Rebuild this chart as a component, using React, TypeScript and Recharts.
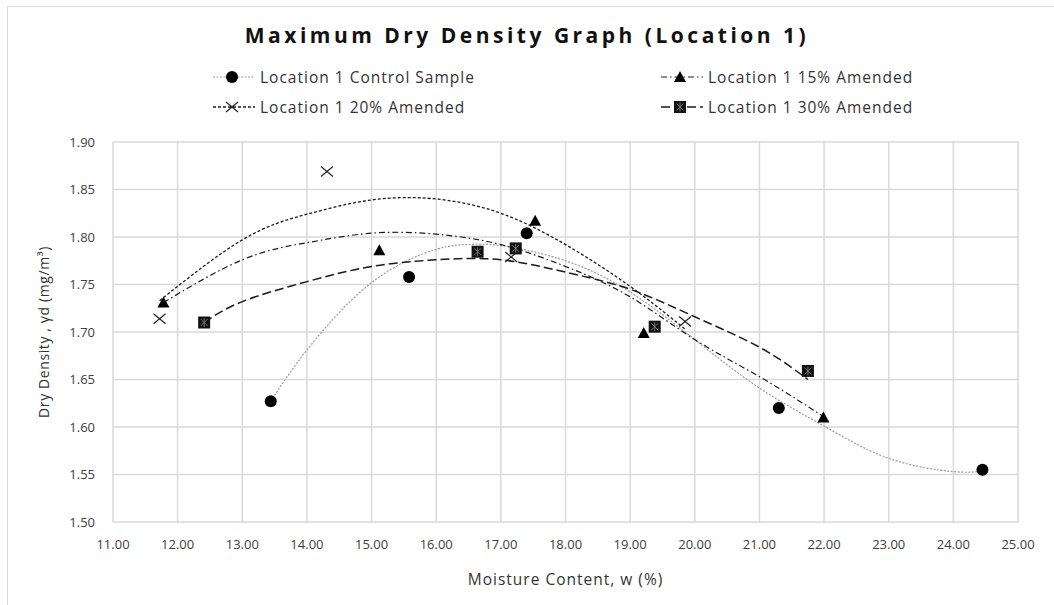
import React from "react";
import { ComposedChart, Line, Scatter, XAxis, YAxis, CartesianGrid } from "recharts";

// measured points
const ctlX = [13.44, 15.58, 17.4, 21.3, 24.45];
const ctlY = [1.627, 1.758, 1.804, 1.62, 1.555];
const a15X = [11.78, 15.12, 17.53, 19.21, 21.99];
const a15Y = [1.731, 1.786, 1.817, 1.699, 1.61];
const a20X = [11.72, 14.31, 17.16, 19.85];
const a20Y = [1.714, 1.869, 1.779, 1.711];
const a30X = [12.41, 16.64, 17.23, 19.38, 21.75];
const a30Y = [1.71, 1.7845, 1.788, 1.7056, 1.659];

// trendlines
const ctlTrendX = [13.44, 14, 15, 16, 16.5, 17, 18, 19, 20, 21, 22, 23, 24, 24.45];
const ctlTrendY = [1.627, 1.681, 1.752, 1.787, 1.792, 1.791, 1.775, 1.742, 1.692, 1.641, 1.601, 1.567, 1.553, 1.554];
const a15TrendX = [11.78, 13, 14, 15, 16, 17, 18, 19, 20, 21, 21.99];
const a15TrendY = [1.731, 1.776, 1.794, 1.804, 1.803, 1.792, 1.769, 1.737, 1.692, 1.653, 1.611];
const a20TrendX = [11.72, 13, 14, 15, 16, 17, 18, 19, 19.85];
const a20TrendY = [1.733, 1.797, 1.824, 1.839, 1.84, 1.825, 1.792, 1.748, 1.703];
const a30TrendX = [12.41, 13, 14, 15, 16, 17, 18, 19, 20, 21, 21.75];
const a30TrendY = [1.71, 1.732, 1.753, 1.769, 1.776, 1.776, 1.763, 1.745, 1.716, 1.684, 1.65];

const xTicks = [11, 12, 13, 14, 15, 16, 17, 18, 19, 20, 21, 22, 23, 24, 25];
const yTicks = [1.5, 1.55, 1.6, 1.65, 1.7, 1.75, 1.8, 1.85, 1.9];

const pts = (xs: number[], ys: number[]) => xs.map((x, i) => ({ x, y: ys[i] }));

const FONT = "'Open Sans', 'Liberation Sans', sans-serif";

const Circle = ({ cx, cy }: any) => <circle cx={cx} cy={cy} r={6} fill="#000" />;
const Tri = ({ cx, cy }: any) => (
  <path d={`M${cx},${cy - 6} L${cx + 6},${cy + 5} L${cx - 6},${cy + 5} Z`} fill="#000" />
);
const Cross = ({ cx, cy }: any) => (
  <g stroke="#222" strokeWidth={1.2}>
    <line x1={cx - 6} y1={cy - 5} x2={cx + 6} y2={cy + 5} />
    <line x1={cx - 6} y1={cy + 5} x2={cx + 6} y2={cy - 5} />
  </g>
);
const Sq = ({ cx, cy }: any) => (
  <g>
    <rect x={cx - 6} y={cy - 6} width={12} height={12} fill="#111" />
    <g stroke="#888" strokeWidth={0.8}>
      <line x1={cx} y1={cy - 4.5} x2={cx} y2={cy + 4.5} />
      <line x1={cx - 3.5} y1={cy - 3.5} x2={cx + 3.5} y2={cy + 3.5} />
      <line x1={cx - 3.5} y1={cy + 3.5} x2={cx + 3.5} y2={cy - 3.5} />
    </g>
  </g>
);

const styles = {
  ctl: { stroke: "#9a9a9a", width: 1.2, dash: "2 1.5" },
  a15: { stroke: "#1a1a1a", width: 1.2, dash: "6 3 1.5 3" },
  a20: { stroke: "#1a1a1a", width: 1.3, dash: "3 2" },
  a30: { stroke: "#1a1a1a", width: 1.5, dash: "9 4" },
};

const LegendItem = ({ st, Marker, label, left, top }: any) => (
  <div style={{ position: "absolute", left, top, height: 20, display: "flex", alignItems: "center" }}>
    <svg width={42} height={20}>
      <line x1={0} y1={10} x2={42} y2={10} stroke={st.stroke} strokeWidth={st.width} strokeDasharray={st.dash} />
      <Marker cx={19} cy={10} />
    </svg>
    <span style={{ marginLeft: 5, fontSize: 15.5, letterSpacing: 1, color: "#333", fontFamily: FONT, whiteSpace: "nowrap" }}>{label}</span>
  </div>
);

export default function App() {
  return (
    <div style={{ position: "absolute", left: 0, top: 0, width: 1054, height: 605, background: "#fff", overflow: "hidden" }}>
      <div style={{ position: "absolute", left: 7, top: 6, width: 1100, height: 700, borderLeft: "1px solid #d9d9d9", borderTop: "1px solid #d9d9d9" }} />
      <div style={{ position: "absolute", left: 0, top: 21, width: 1054, textAlign: "center", fontFamily: FONT, fontWeight: 700, fontSize: 21, letterSpacing: 3.5, color: "#111" }}>
        Maximum Dry Density Graph (Location 1)
      </div>
      <LegendItem st={styles.ctl} Marker={Circle} label="Location 1 Control Sample" left={213} top={67} />
      <LegendItem st={styles.a20} Marker={Cross} label="Location 1 20% Amended" left={213} top={97} />
      <LegendItem st={styles.a15} Marker={Tri} label="Location 1 15% Amended" left={661} top={67} />
      <LegendItem st={styles.a30} Marker={Sq} label="Location 1 30% Amended" left={661} top={97} />
      <ComposedChart width={1054} height={605} margin={{ top: 142, right: 36, bottom: 53, left: 53 }} style={{ position: "absolute", left: 0, top: 0 }}>
        <CartesianGrid stroke="#d9d9d9" strokeWidth={1.5} />
        <XAxis
          type="number"
          dataKey="x"
          domain={[11, 25]}
          ticks={xTicks}
          allowDataOverflow
          height={30}
          axisLine={false}
          tickLine={false}
          tickMargin={12}
          tickFormatter={(v: number) => v.toFixed(2)}
          tick={{ fontSize: 13, fill: "#404040", fontFamily: FONT }}
        />
        <YAxis
          type="number"
          dataKey="y"
          domain={[1.5, 1.9]}
          ticks={yTicks}
          allowDataOverflow
          width={60}
          axisLine={false}
          tickLine={false}
          tickMargin={12}
          tickFormatter={(v: number) => v.toFixed(2)}
          tick={{ fontSize: 13, fill: "#404040", fontFamily: FONT }}
        />
        <Line data={pts(ctlTrendX, ctlTrendY)} dataKey="y" type="natural" dot={false} activeDot={false} stroke={styles.ctl.stroke} strokeWidth={styles.ctl.width} strokeDasharray={styles.ctl.dash} isAnimationActive={false} />
        <Line data={pts(a15TrendX, a15TrendY)} dataKey="y" type="natural" dot={false} activeDot={false} stroke={styles.a15.stroke} strokeWidth={styles.a15.width} strokeDasharray={styles.a15.dash} isAnimationActive={false} />
        <Line data={pts(a20TrendX, a20TrendY)} dataKey="y" type="natural" dot={false} activeDot={false} stroke={styles.a20.stroke} strokeWidth={styles.a20.width} strokeDasharray={styles.a20.dash} isAnimationActive={false} />
        <Line data={pts(a30TrendX, a30TrendY)} dataKey="y" type="natural" dot={false} activeDot={false} stroke={styles.a30.stroke} strokeWidth={styles.a30.width} strokeDasharray={styles.a30.dash} isAnimationActive={false} />
        <Scatter data={pts(ctlX, ctlY)} dataKey="y" shape={Circle} isAnimationActive={false} />
        <Scatter data={pts(a15X, a15Y)} dataKey="y" shape={Tri} isAnimationActive={false} />
        <Scatter data={pts(a20X, a20Y)} dataKey="y" shape={Cross} isAnimationActive={false} />
        <Scatter data={pts(a30X, a30Y)} dataKey="y" shape={Sq} isAnimationActive={false} />
      </ComposedChart>
      <div style={{ position: "absolute", left: 113, width: 905, top: 568, textAlign: "center", fontFamily: FONT, fontSize: 15.5, letterSpacing: 1, color: "#333" }}>
        Moisture Content, w (%)
      </div>
      <div style={{ position: "absolute", left: 43, top: 332, width: 0, height: 0 }}>
        <div style={{ position: "absolute", transform: "translate(-50%, -50%) rotate(-90deg)", whiteSpace: "nowrap", fontFamily: FONT, fontSize: 14, letterSpacing: 0.6, color: "#333" }}>
          Dry Density , γd (mg/m³)
        </div>
      </div>
    </div>
  );
}
